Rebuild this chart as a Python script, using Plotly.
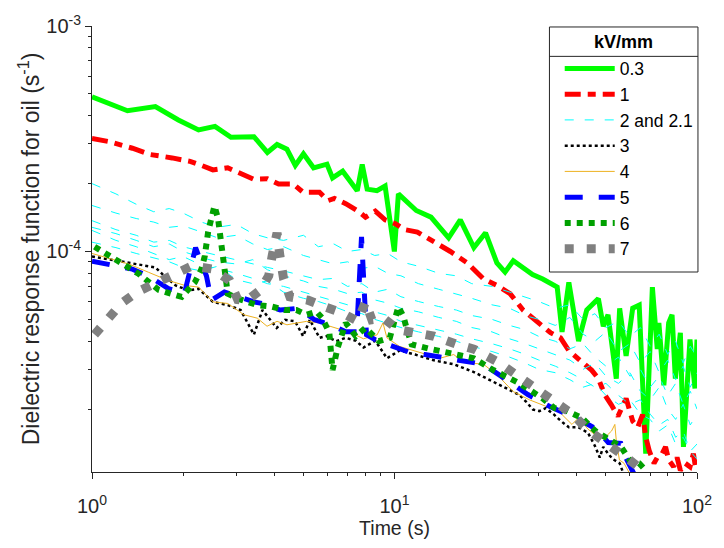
import plotly.graph_objects as go

# ---- 0.3 kV/mm ----
t_03 = [1.0, 1.31, 1.62, 1.93, 2.25, 2.55, 2.88, 3.43, 3.80, 4.09, 4.41, 4.70, 5.00, 5.40, 5.98,
        6.24, 6.74, 7.53, 7.82, 8.12, 8.75, 9.31, 9.99, 10.3, 11.8, 13.2, 15.1, 16.5, 18.3, 20.0,
        21.8, 23.2, 24.7, 26.6, 28.6, 30.9, 33.3, 34.5, 35.8, 37.7, 40.6, 43.2, 47.2, 49.0, 50.8,
        54.1, 55.5, 58.3, 61.3, 64.4, 67.7, 71.2, 73.9, 74.8, 77.7, 80.6, 82.7, 84.8, 88.1, 90.2,
        94.8, 98.5, 100]
y_03 = [4.85e-4, 4.21e-4, 4.39e-4, 3.83e-4, 3.46e-4, 3.59e-4, 3.21e-4, 3.23e-4, 2.75e-4, 2.98e-4,
        2.84e-4, 2.41e-4, 2.71e-4, 2.35e-4, 2.44e-4, 2.12e-4, 2.27e-4, 1.86e-4, 2.43e-4, 1.89e-4,
        1.86e-4, 1.95e-4, 1.0e-4, 1.80e-4, 1.52e-4, 1.42e-4, 1.15e-4, 1.38e-4, 1.04e-4, 1.21e-4,
        8.9e-5, 8.1e-5, 9.1e-5, 8.5e-5, 7.9e-5, 7.55e-5, 7.07e-5, 6.95e-5, 4.4e-5, 7.3e-5,
        4.0e-5, 5.5e-5, 6.18e-5, 4.66e-5, 5.24e-5, 2.73e-5, 5.6e-5, 3.44e-5, 5.6e-5, 5.78e-5,
        1.27e-5, 6.95e-5, 3.69e-5, 4.82e-5, 2.55e-5, 4.82e-5, 5.24e-5, 2.73e-5, 4.36e-5, 1.36e-5,
        4.07e-5, 2.47e-5, 4.07e-5]

# ---- 1 kV/mm ----
t_1 = [1.0, 1.14, 1.36, 1.56, 1.84, 2.11, 2.30, 2.51, 2.81, 3.43, 3.80, 4.14, 4.63, 4.99, 5.65,
       6.02, 6.33, 6.90, 7.63, 8.02, 8.64, 9.31, 10.04, 10.8, 11.9, 13.5, 15.3, 17.4, 19.7, 21.8,
       24.1, 26.6, 30.1, 32.8, 35.4, 37.7, 40.6, 44.9, 47.2, 49.6, 52.1, 54.8, 58.3, 59.8, 61.3,
       63.7, 66.1, 67.7, 69.5, 72.1, 73.9, 76.7, 78.7, 80.6, 83.7, 85.9, 88.1, 91.4, 94.8, 97.3, 100]
y_1 = [3.17e-4, 3.07e-4, 2.87e-4, 2.69e-4, 2.60e-4, 2.51e-4, 2.41e-4, 2.30e-4, 2.35e-4, 2.09e-4,
       2.10e-4, 1.99e-4, 1.99e-4, 1.83e-4, 1.83e-4, 1.68e-4, 1.72e-4, 1.63e-4, 1.50e-4, 1.42e-4,
       1.51e-4, 1.38e-4, 1.33e-4, 1.25e-4, 1.22e-4, 1.11e-4, 1.0e-4, 8.9e-5, 7.55e-5, 7.07e-5,
       6.5e-5, 5.5e-5, 4.82e-5, 4.36e-5, 4.14e-5, 3.63e-5, 3.33e-5, 2.97e-5, 2.73e-5, 2.31e-5,
       2.09e-5, 1.86e-5, 2.23e-5, 2.02e-5, 1.77e-5, 1.66e-5, 1.89e-5, 1.5e-5, 1.31e-5, 1.15e-5,
       1.22e-5, 1.27e-5, 1.36e-5, 1.19e-5, 1.11e-5, 1.22e-5, 1.07e-5, 1.15e-5, 1.11e-5, 1.27e-5,
       1.0e-5]

# ---- 2 and 2.1 kV/mm (several runs on a shared time base) ----
t_2 = [1, 1.2, 1.4, 1.6, 1.8, 2.0, 2.3, 2.6, 3.0, 3.4, 3.8, 4.3, 5.0, 5.6, 6.3, 7.0, 7.8, 8.6,
       9.5, 10.5, 12, 14, 16, 18, 21, 24, 27, 30, 34, 38, 42, 46, 50, 55, 60, 65, 70, 75, 80, 85,
       90, 95, 100]
y_2a = [2.0e-4, 1.8e-4, 1.62e-4, 1.5e-4, 1.55e-4, 1.48e-4, 1.35e-4, 1.28e-4, 1.32e-4, 1.2e-4,
        1.15e-4, 1.12e-4, 1.18e-4, 1.05e-4, 1.08e-4, 1.0e-4, 1.02e-4, 9.6e-5, 9.8e-5, 9.0e-5,
        8.6e-5, 8.0e-5, 7.8e-5, 7.2e-5, 7.0e-5, 6.6e-5, 6.3e-5, 6.0e-5, 5.6e-5, 5.8e-5, 5.0e-5,
        5.3e-5, 4.6e-5, 4.9e-5, 4.2e-5, 4.6e-5, 3.8e-5, 4.3e-5, 3.5e-5, 4.0e-5, 3.2e-5, 3.8e-5,
        3.4e-5]
y_2b = [1.6e-4, 1.48e-4, 1.4e-4, 1.35e-4, 1.28e-4, 1.3e-4, 1.22e-4, 1.15e-4, 1.18e-4, 1.08e-4,
        1.02e-4, 1.05e-4, 9.6e-5, 9.2e-5, 8.8e-5, 9.0e-5, 8.4e-5, 8.6e-5, 8.0e-5, 7.8e-5, 7.2e-5,
        6.8e-5, 6.5e-5, 6.2e-5, 5.8e-5, 5.6e-5, 5.2e-5, 5.0e-5, 4.7e-5, 5.1e-5, 4.3e-5, 4.0e-5,
        4.4e-5, 3.6e-5, 3.9e-5, 3.2e-5, 3.6e-5, 2.9e-5, 3.3e-5, 2.7e-5, 3.1e-5, 2.5e-5, 2.9e-5]
y_2c = [1.37e-4, 1.25e-4, 1.18e-4, 1.1e-4, 1.12e-4, 1.05e-4, 1.0e-4, 9.6e-5, 9.2e-5, 8.8e-5,
        8.5e-5, 8.2e-5, 7.8e-5, 7.5e-5, 7.6e-5, 7.0e-5, 7.2e-5, 6.6e-5, 6.8e-5, 6.3e-5, 6.0e-5,
        5.7e-5, 5.5e-5, 5.2e-5, 5.0e-5, 4.7e-5, 4.5e-5, 4.2e-5, 4.0e-5, 3.7e-5, 3.9e-5, 3.4e-5,
        3.1e-5, 3.4e-5, 2.8e-5, 3.0e-5, 2.5e-5, 2.8e-5, 2.3e-5, 2.6e-5, 2.1e-5, 2.4e-5, 2.0e-5]
y_2d = [1.28e-4, 1.2e-4, 1.12e-4, 1.05e-4, 1.08e-4, 1.0e-4, 9.4e-5, 9.0e-5, 8.8e-5, 9.2e-5,
        8.3e-5, 7.8e-5, 7.4e-5, 7.0e-5, 6.8e-5, 6.5e-5, 6.6e-5, 6.1e-5, 5.9e-5, 5.6e-5, 5.4e-5,
        5.1e-5, 4.9e-5, 4.6e-5, 4.4e-5, 4.1e-5, 3.9e-5, 3.7e-5, 3.5e-5, 3.3e-5, 3.0e-5, 3.2e-5,
        2.8e-5, 2.6e-5, 2.9e-5, 2.4e-5, 2.2e-5, 2.5e-5, 2.0e-5, 1.8e-5, 2.1e-5, 1.7e-5, 1.9e-5]
y_2e = [1.24e-4, 1.12e-4, 1.05e-4, 9.8e-5, 9.2e-5, 9.5e-5, 8.7e-5, 8.4e-5, 8.0e-5, 7.6e-5,
        7.2e-5, 7.0e-5, 6.6e-5, 6.3e-5, 6.0e-5, 5.8e-5, 5.6e-5, 5.4e-5, 5.2e-5, 4.9e-5, 4.7e-5,
        4.5e-5, 4.3e-5, 4.1e-5, 3.9e-5, 3.7e-5, 3.5e-5, 3.3e-5, 3.1e-5, 2.9e-5, 2.7e-5, 2.5e-5,
        2.6e-5, 2.3e-5, 2.1e-5, 2.2e-5, 1.9e-5, 1.7e-5, 1.8e-5, 1.5e-5, 1.6e-5, 1.3e-5, 1.4e-5]
y_2f = [1.1e-4, 1.04e-4, 9.8e-5, 9.4e-5, 9.0e-5, 8.5e-5, 8.2e-5, 8.6e-5, 7.5e-5, 7.2e-5, 7.4e-5,
        6.6e-5, 6.2e-5, 6.0e-5, 5.7e-5, 5.4e-5, 5.3e-5, 5.0e-5, 4.8e-5, 4.6e-5, 4.4e-5, 4.2e-5,
        4.0e-5, 3.8e-5, 3.6e-5, 3.4e-5, 3.2e-5, 3.0e-5, 2.9e-5, 2.7e-5, 2.5e-5, 2.6e-5, 2.3e-5,
        2.1e-5, 2.2e-5, 1.9e-5, 1.8e-5, 1.6e-5, 1.7e-5, 1.4e-5, 1.5e-5, 1.3e-5, 1.2e-5]
y_2_runs = [y_2a, y_2b, y_2c, y_2d, y_2e, y_2f]

# ---- 3 kV/mm ----
t_3 = [1.0, 1.14, 1.33, 1.52, 1.62, 1.73, 1.89, 2.08, 2.25, 2.51, 2.81, 3.10, 3.43, 3.66, 4.08,
       4.35, 4.69, 4.99, 5.25, 5.65, 5.95, 6.41, 6.9, 7.45, 7.9, 8.64, 9.44, 10.4, 11.7, 13.5,
       15.7, 18.3, 21.2, 23.8, 25.9, 27.2, 28.7, 30.1, 31.6, 33.7, 35.5, 37.7, 40.6, 43.6, 45.9,
       47.7, 49.0, 50.8, 52.7, 55.5, 56.9, 58.0]
y_3 = [9.5e-5, 9.23e-5, 8.93e-5, 8.63e-5, 8.5e-5, 7.81e-5, 7.07e-5, 6.72e-5, 6.84e-5, 5.98e-5,
       5.78e-5, 5.5e-5, 4.28e-5, 5.5e-5, 4.58e-5, 4.98e-5, 4.9e-5, 4.21e-5, 4.98e-5, 4.14e-5,
       4.21e-5, 4.0e-5, 4.14e-5, 4.02e-5, 3.75e-5, 4.02e-5, 3.36e-5, 3.64e-5, 3.49e-5, 3.29e-5,
       3.16e-5, 2.92e-5, 2.64e-5, 2.44e-5, 2.31e-5, 2.16e-5, 1.99e-5, 1.96e-5, 2.02e-5, 1.89e-5,
       1.77e-5, 1.66e-5, 1.66e-5, 1.57e-5, 1.38e-5, 1.22e-5, 1.36e-5, 1.27e-5, 1.2e-5, 1.15e-5,
       1.05e-5, 9.5e-6]

# ---- 4 kV/mm ----
t_4 = [1.0, 1.33, 1.54, 1.79, 2.03, 2.25, 2.51, 2.81, 3.18, 3.52, 3.79, 4.09, 4.41, 5.12, 5.65,
       6.41, 7.18, 7.9, 8.76, 9.16, 9.44, 10.4, 12.1, 14.1, 15.7, 16.9, 19.7, 22.0, 24.7, 27.9,
       31.6, 34.1, 35.8, 38.6, 40.6, 43.6, 46.6, 49.7, 52.2, 53.5, 54.1, 55.4, 57.4, 59.7, 62.0]
y_4 = [9.8e-5, 8.78e-5, 8.08e-5, 7.43e-5, 7.07e-5, 6.95e-5, 5.98e-5, 5.88e-5, 5.24e-5, 5.06e-5,
       4.66e-5, 4.9e-5, 4.73e-5, 4.9e-5, 4.82e-5, 4.58e-5, 4.36e-5, 4.1e-5, 4.27e-5, 4.82e-5,
       4.14e-5, 3.79e-5, 3.57e-5, 3.36e-5, 3.49e-5, 3.23e-5, 3.16e-5, 2.81e-5, 2.39e-5, 2.2e-5,
       2.06e-5, 2.02e-5, 1.89e-5, 1.71e-5, 1.83e-5, 1.63e-5, 1.52e-5, 1.5e-5, 1.6e-5, 1.71e-5,
       1.45e-5, 1.19e-5, 1.15e-5, 1.05e-5, 9.5e-6]

# ---- 5 kV/mm ----
t_5 = [1.0, 1.16, 1.36, 1.56, 1.79, 1.96, 2.02, 2.20, 2.39, 2.48, 2.74, 3.43, 3.65, 4.19, 4.81,
       5.44, 6.17, 6.9, 7.5, 7.78, 8.08, 8.64, 9.16, 10.0, 11.2, 12.6, 15.1, 17.0, 19.7, 22.0,
       24.7, 27.6, 32.5, 37.2, 41.6, 46.5, 50.9, 56.0, 58.3, 61.5, 65.0]
y_5 = [9.06e-5, 8.7e-5, 8.35e-5, 7.69e-5, 6.84e-5, 6.61e-5, 6.5e-5, 1.04e-4, 7.78e-5, 6.08e-5,
       6.61e-5, 5.98e-5, 5.88e-5, 5.5e-5, 5.6e-5, 4.98e-5, 4.73e-5, 4.4e-5, 4.4e-5, 1.16e-4,
       4.27e-5, 4.06e-5, 3.94e-5, 3.75e-5, 3.57e-5, 3.49e-5, 3.36e-5, 3.29e-5, 3.16e-5, 2.86e-5,
       2.56e-5, 2.32e-5, 2.06e-5, 1.9e-5, 1.77e-5, 1.63e-5, 1.42e-5, 1.41e-5, 1.21e-5, 1.05e-5,
       9.5e-6]

# ---- 6 kV/mm ----
t_6 = [1.02, 1.12, 1.22, 1.31, 1.43, 1.54, 1.66, 1.82, 1.98, 2.19, 2.30, 2.36, 2.39, 2.42, 2.48,
       2.54, 2.61, 2.64, 2.67, 2.71, 2.81, 3.03, 3.52, 3.94, 4.35, 4.74, 5.12, 5.52, 5.77, 6.09,
       6.24, 6.49, 6.9, 7.45, 8.02, 8.87, 9.65, 10.3, 10.7, 11.0, 11.4, 13.2, 15.7, 18.3, 21.2,
       25.9, 30.9, 33.8, 37.2, 41.6, 46.1, 49.7, 52.8, 56.1, 59.8, 64.4, 67.7]
y_6 = [1.05e-4, 9.77e-5, 9.14e-5, 8.55e-5, 7.94e-5, 7.31e-5, 6.76e-5, 6.5e-5, 6.29e-5, 7.31e-5,
       8.35e-5, 9.55e-5, 1.09e-4, 1.22e-4, 1.4e-4, 1.59e-4, 1.4e-4, 1.22e-4, 1.07e-4, 9.45e-5,
       6.5e-5, 6.18e-5, 5.78e-5, 5.69e-5, 5.5e-5, 5.5e-5, 5.24e-5, 5.41e-5, 5.06e-5, 4.36e-5,
       2.98e-5, 3.75e-5, 4.82e-5, 4.21e-5, 4.58e-5, 4.0e-5, 4.14e-5, 5.69e-5, 5.15e-5, 4.5e-5,
       3.87e-5, 3.69e-5, 3.49e-5, 3.36e-5, 2.98e-5, 2.6e-5, 2.23e-5, 2.02e-5, 1.96e-5, 1.83e-5,
       1.6e-5, 1.5e-5, 1.42e-5, 1.36e-5, 1.19e-5, 1.15e-5, 1.07e-5]

# ---- 7 kV/mm ----
t_7 = [1.02, 1.13, 1.25, 1.41, 1.62, 1.86, 2.14, 2.51, 2.85, 3.03, 3.26, 3.61, 3.84, 3.94, 4.03,
       4.09, 4.18, 4.30, 4.51, 5.18, 5.87, 6.74, 7.56, 8.02, 8.42, 9.19, 10.3, 11.7, 13.5, 16.1,
       18.3, 22.0, 26.6, 29.7, 33.3, 35.8, 39.0, 43.2, 48.4, 54.1, 59.8, 66.2]
y_7 = [4.28e-5, 4.98e-5, 5.88e-5, 6.61e-5, 7.19e-5, 8.0e-5, 8.63e-5, 8.35e-5, 7.43e-5, 6.12e-5,
       6.08e-5, 6.76e-5, 7.81e-5, 9.55e-5, 1.17e-4, 1.21e-4, 9.55e-5, 7.55e-5, 6.29e-5, 6.08e-5,
       5.69e-5, 5.32e-5, 4.91e-5, 5.98e-5, 4.98e-5, 5.06e-5, 4.5e-5, 4.36e-5, 4.21e-5, 3.87e-5,
       3.69e-5, 3.23e-5, 2.69e-5, 2.43e-5, 2.2e-5, 2.02e-5, 1.89e-5, 1.63e-5, 1.47e-5, 1.31e-5,
       1.19e-5, 1.07e-5]

# ---- axis ticks ----
x_major = [1, 10, 100]
x_major_text = ["10<sup>0</sup>", "10<sup>1</sup>", "10<sup>2</sup>"]
x_minor = [2, 3, 4, 5, 6, 7, 8, 9, 20, 30, 40, 50, 60, 70, 80, 90]
y_major = [1e-4, 1e-3]
y_major_text = ["10<sup>-4</sup>", "10<sup>-3</sup>"]
y_minor = [2e-5, 3e-5, 4e-5, 5e-5, 6e-5, 7e-5, 8e-5, 9e-5,
           2e-4, 3e-4, 4e-4, 5e-4, 6e-4, 7e-4, 8e-4, 9e-4]

INK = "#262626"
FONT = "Liberation Sans, Arial, Helvetica, sans-serif"

fig = go.Figure()


def add_line(t, y, name, color, width, dash, show=True, group=None):
    fig.add_trace(go.Scatter(
        x=t, y=y, mode="lines", name=name, showlegend=show,
        legendgroup=group or name,
        line=dict(color=color, width=width, dash=dash),
        hoverinfo="skip",
    ))


add_line(t_03, y_03, "0.3", "#00FF00", 5, "solid")
add_line(t_1, y_1, "1", "#FF0000", 5, "16px,7px,8px,7px")
for i, run in enumerate(y_2_runs):
    add_line(t_2, run, "2 and 2.1", "#00FFFF", 1, "9px,11px", show=(i == 0), group="cyan")
add_line(t_3, y_3, "3", "#000000", 2.5, "dot")
add_line(t_4, y_4, "4", "#EDB120", 1, "solid")
add_line(t_5, y_5, "5", "#0000FF", 5, "18px,16px")
add_line(t_6, y_6, "6", "#00A000", 6, "6px,6px")
add_line(t_7, y_7, "7", "#808080", 9, "9px,13px")

axis_common = dict(
    type="log", showline=True, linecolor=INK, linewidth=1, mirror=False,
    ticks="outside", ticklen=6, tickcolor=INK, tickwidth=1,
    showgrid=False, zeroline=False,
    tickfont=dict(family=FONT, size=20, color=INK),
)

# legend frame geometry (paper coordinates)
LEG_X0, LEG_X1 = 0.7561, 1.0016
LEG_Y0, LEG_Y1 = 0.4484, 0.9978
LEG_RULE = 0.9319

fig.update_layout(
    width=724, height=548,
    margin=dict(l=92, r=17, t=17, b=76),
    paper_bgcolor="white", plot_bgcolor="white",
    font=dict(family=FONT, size=18, color=INK),
    xaxis=dict(
        range=[0, 2], tickmode="array", tickvals=x_major, ticktext=x_major_text,
        ticklabelstandoff=10,
        minor=dict(ticks="outside", ticklen=3, tickcolor=INK, tickvals=x_minor, showgrid=False),
        title=dict(text="Time (s)", font=dict(family=FONT, size=19.5, color=INK), standoff=4),
        **axis_common,
    ),
    yaxis=dict(
        range=[-4.978, -3], tickmode="array", tickvals=y_major, ticktext=y_major_text,
        ticklabelstandoff=0,
        minor=dict(ticks="outside", ticklen=3, tickcolor=INK, tickvals=y_minor, showgrid=False),
        title=dict(text="Dielectric response function for oil (s<sup>-1</sup>)",
                   font=dict(family=FONT, size=23, color=INK), standoff=0),
        **axis_common,
    ),
    legend=dict(
        x=LEG_X0 + 0.017, y=0.945, xanchor="left", yanchor="top",
        bgcolor="rgba(255,255,255,0)", borderwidth=0,
        font=dict(family=FONT, size=17.5, color="#000000"),
        itemwidth=50, tracegroupgap=0,
    ),
    showlegend=True,
)

# legend frame, heading and the rule under it
fig.add_shape(type="rect", xref="paper", yref="paper",
              x0=LEG_X0, x1=LEG_X1, y0=LEG_Y0, y1=LEG_Y1,
              line=dict(color=INK, width=1), fillcolor="white", layer="above")
fig.add_shape(type="line", xref="paper", yref="paper",
              x0=LEG_X0, x1=LEG_X1, y0=LEG_RULE, y1=LEG_RULE,
              line=dict(color=INK, width=1), layer="above")
fig.add_annotation(text="<b>kV/mm</b>", xref="paper", yref="paper",
                   x=(LEG_X0 + LEG_X1) / 2, y=0.9648, xanchor="center", yanchor="middle",
                   showarrow=False, font=dict(family=FONT, size=18, color="#000000"))

fig.write_html("out.html")
